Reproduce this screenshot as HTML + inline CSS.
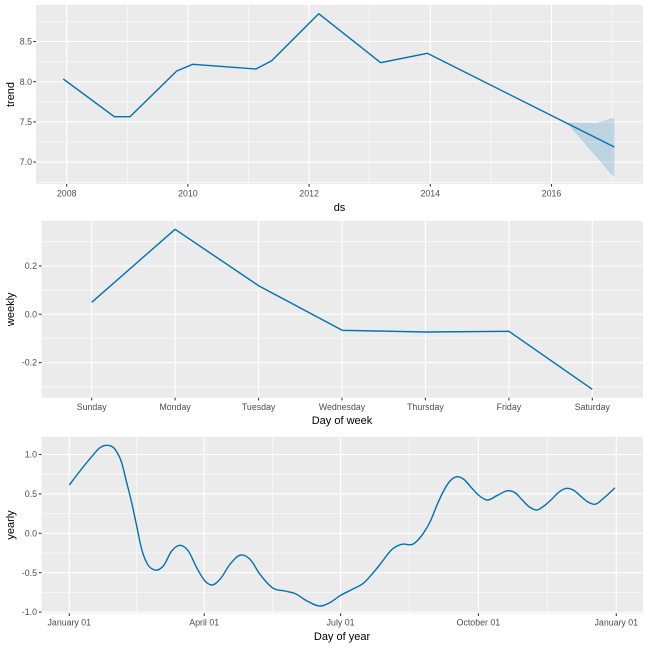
<!DOCTYPE html>
<html><head><meta charset="utf-8"><style>
html,body{margin:0;padding:0;background:#fff;}
svg{display:block;}
text{font-family:"Liberation Sans",Arial,sans-serif;}
.tl{font-size:8.8px;fill:#4D4D4D;}
.at{font-size:11px;fill:#000;}
.maj{stroke:#fff;stroke-width:1.1;}
.min{stroke:#fff;stroke-width:0.55;}
.tk{stroke:#333;stroke-width:1.05;}
.ser{fill:none;stroke:#0072B2;stroke-width:1.4;stroke-linejoin:round;}
</style></head><body>
<svg width="648" height="648" viewBox="0 0 648 648" xmlns="http://www.w3.org/2000/svg">
<rect width="648" height="648" fill="#fff"/>

<!-- Panel 1: trend -->
<rect x="36" y="5" width="607" height="179" fill="#EBEBEB"/>
<g class="min">
<line x1="36" x2="643" y1="21.4" y2="21.4"/><line x1="36" x2="643" y1="61.6" y2="61.6"/><line x1="36" x2="643" y1="101.8" y2="101.8"/><line x1="36" x2="643" y1="142" y2="142"/><line x1="36" x2="643" y1="182.2" y2="182.2"/>
<line y1="5" y2="184" x1="127.3" x2="127.3"/><line y1="5" y2="184" x1="248.5" x2="248.5"/><line y1="5" y2="184" x1="369.7" x2="369.7"/><line y1="5" y2="184" x1="490.9" x2="490.9"/><line y1="5" y2="184" x1="612.1" x2="612.1"/>
</g>
<g class="maj">
<line x1="36" x2="643" y1="41.5" y2="41.5"/><line x1="36" x2="643" y1="81.7" y2="81.7"/><line x1="36" x2="643" y1="121.9" y2="121.9"/><line x1="36" x2="643" y1="162.1" y2="162.1"/>
<line y1="5" y2="184" x1="66.7" x2="66.7"/><line y1="5" y2="184" x1="187.9" x2="187.9"/><line y1="5" y2="184" x1="309.1" x2="309.1"/><line y1="5" y2="184" x1="430.3" x2="430.3"/><line y1="5" y2="184" x1="551.5" x2="551.5"/>
</g>
<polygon points="566.7,122.3 597,123 600,121.5 611,118.5 614.3,118 614.3,176 612,175 566.7,122.8" fill="#0072B2" fill-opacity="0.2"/>
<polyline class="ser" points="63.3,79 114.3,116.7 130,116.7 176.7,71 192.7,64.3 256,69 271.7,60.7 318.7,13.7 380.7,62.7 427.3,53.3 614.3,147"/>
<g class="tk">
<line x1="33.3" x2="36" y1="41.5" y2="41.5"/><line x1="33.3" x2="36" y1="81.7" y2="81.7"/><line x1="33.3" x2="36" y1="121.9" y2="121.9"/><line x1="33.3" x2="36" y1="162.1" y2="162.1"/>
<line y1="184" y2="186.7" x1="66.7" x2="66.7"/><line y1="184" y2="186.7" x1="187.9" x2="187.9"/><line y1="184" y2="186.7" x1="309.1" x2="309.1"/><line y1="184" y2="186.7" x1="430.3" x2="430.3"/><line y1="184" y2="186.7" x1="551.5" x2="551.5"/>
</g>
<g class="tl" text-anchor="end">
<text x="32" y="44.6">8.5</text><text x="32" y="84.8">8.0</text><text x="32" y="125">7.5</text><text x="32" y="165.2">7.0</text>
</g>
<g class="tl" text-anchor="middle">
<text x="66.7" y="196.6">2008</text><text x="187.9" y="196.6">2010</text><text x="309.1" y="196.6">2012</text><text x="430.3" y="196.6">2014</text><text x="551.5" y="196.6">2016</text>
</g>
<text class="at" x="339.5" y="211" text-anchor="middle">ds</text>
<text class="at" transform="translate(14,94.5) rotate(-90)" text-anchor="middle">trend</text>

<!-- Panel 2: weekly -->
<rect x="41.5" y="221" width="601.5" height="176.7" fill="#EBEBEB"/>
<g class="min">
<line x1="41.5" x2="643" y1="241.8" y2="241.8"/><line x1="41.5" x2="643" y1="290.2" y2="290.2"/><line x1="41.5" x2="643" y1="338.5" y2="338.5"/><line x1="41.5" x2="643" y1="386.8" y2="386.8"/>
</g>
<g class="maj">
<line x1="41.5" x2="643" y1="266" y2="266"/><line x1="41.5" x2="643" y1="314.3" y2="314.3"/><line x1="41.5" x2="643" y1="362.6" y2="362.6"/>
<line y1="221" y2="397.7" x1="91.7" x2="91.7"/><line y1="221" y2="397.7" x1="175.1" x2="175.1"/><line y1="221" y2="397.7" x1="258.6" x2="258.6"/><line y1="221" y2="397.7" x1="342" x2="342"/><line y1="221" y2="397.7" x1="425.4" x2="425.4"/><line y1="221" y2="397.7" x1="508.9" x2="508.9"/><line y1="221" y2="397.7" x1="592.3" x2="592.3"/>
</g>
<polyline class="ser" points="91.7,302.3 175.1,229.3 258.6,285.7 342.2,330.3 425.4,332 508.9,331.3 592.3,389.3"/>
<g class="tk">
<line x1="38.8" x2="41.5" y1="266" y2="266"/><line x1="38.8" x2="41.5" y1="314.3" y2="314.3"/><line x1="38.8" x2="41.5" y1="362.6" y2="362.6"/>
<line y1="397.7" y2="400.4" x1="91.7" x2="91.7"/><line y1="397.7" y2="400.4" x1="175.1" x2="175.1"/><line y1="397.7" y2="400.4" x1="258.6" x2="258.6"/><line y1="397.7" y2="400.4" x1="342" x2="342"/><line y1="397.7" y2="400.4" x1="425.4" x2="425.4"/><line y1="397.7" y2="400.4" x1="508.9" x2="508.9"/><line y1="397.7" y2="400.4" x1="592.3" x2="592.3"/>
</g>
<g class="tl" text-anchor="end">
<text x="37" y="269.1">0.2</text><text x="37" y="317.4">0.0</text><text x="37" y="365.7">-0.2</text>
</g>
<g class="tl" text-anchor="middle">
<text x="91.7" y="410">Sunday</text><text x="175.1" y="410">Monday</text><text x="258.6" y="410">Tuesday</text><text x="342" y="410">Wednesday</text><text x="425.4" y="410">Thursday</text><text x="508.9" y="410">Friday</text><text x="592.3" y="410">Saturday</text>
</g>
<text class="at" x="342" y="424" text-anchor="middle">Day of week</text>
<text class="at" transform="translate(14,309.3) rotate(-90)" text-anchor="middle">weekly</text>

<!-- Panel 3: yearly -->
<rect x="41.5" y="436.7" width="601.5" height="176.6" fill="#EBEBEB"/>
<g class="min">
<line x1="41.5" x2="643" y1="474.2" y2="474.2"/><line x1="41.5" x2="643" y1="513.6" y2="513.6"/><line x1="41.5" x2="643" y1="553" y2="553"/><line x1="41.5" x2="643" y1="592.4" y2="592.4"/>
<line y1="436.7" y2="613.3" x1="136.7" x2="136.7"/><line y1="436.7" y2="613.3" x1="272.4" x2="272.4"/><line y1="436.7" y2="613.3" x1="409.5" x2="409.5"/><line y1="436.7" y2="613.3" x1="547.3" x2="547.3"/>
</g>
<g class="maj">
<line x1="41.5" x2="643" y1="454.5" y2="454.5"/><line x1="41.5" x2="643" y1="493.9" y2="493.9"/><line x1="41.5" x2="643" y1="533.3" y2="533.3"/><line x1="41.5" x2="643" y1="572.7" y2="572.7"/><line x1="41.5" x2="643" y1="612.1" y2="612.1"/>
<line y1="436.7" y2="613.3" x1="69.3" x2="69.3"/><line y1="436.7" y2="613.3" x1="204.2" x2="204.2"/><line y1="436.7" y2="613.3" x1="340.6" x2="340.6"/><line y1="436.7" y2="613.3" x1="478.4" x2="478.4"/><line y1="436.7" y2="613.3" x1="616.3" x2="616.3"/>
</g>
<path id="yearly" class="ser" d="M69.3,485 L80,471 L91.7,456.7 L100,447.7 L106.7,445.3 L115,449.3 L121.7,462.7 L126.7,482.7 L131.7,502.7 L136.7,526 L141.7,549.3 L146.7,562.7 L155,570 L163.3,566 L171.7,551 L180,545.3 L188.3,551 L196.7,567.7 L205,581 L211.7,585 L220,579.3 L230,564.3 L240.7,555 L250,559.3 L260,574.3 L273.3,588.3 L285,591 L295,593.5 L307,601 L320.7,606 L330,602.5 L340,595.7 L352,589.5 L363.3,583.3 L378,567 L393.3,548.3 L401.7,544.3 L413.3,544 L418,540 L423.3,533.3 L430,522 L437,505 L443.3,491.5 L450,481 L457.3,476.7 L464,479.5 L472,488.3 L479,495.5 L486.7,500 L497.5,495.3 L508.3,490.7 L515.5,493 L522.5,500.3 L529.5,507 L536.7,510 L544,506 L551.7,499.2 L559,492 L566.7,488.3 L574,490.5 L580.8,496.3 L588,502 L595,504.3 L605,497 L615,487.7"/>
<g class="tk">
<line x1="38.8" x2="41.5" y1="454.5" y2="454.5"/><line x1="38.8" x2="41.5" y1="493.9" y2="493.9"/><line x1="38.8" x2="41.5" y1="533.3" y2="533.3"/><line x1="38.8" x2="41.5" y1="572.7" y2="572.7"/><line x1="38.8" x2="41.5" y1="612.1" y2="612.1"/>
<line y1="613.3" y2="616" x1="69.3" x2="69.3"/><line y1="613.3" y2="616" x1="204.2" x2="204.2"/><line y1="613.3" y2="616" x1="340.6" x2="340.6"/><line y1="613.3" y2="616" x1="478.4" x2="478.4"/><line y1="613.3" y2="616" x1="616.3" x2="616.3"/>
</g>
<g class="tl" text-anchor="end">
<text x="37" y="457.6">1.0</text><text x="37" y="497">0.5</text><text x="37" y="536.4">0.0</text><text x="37" y="575.8">-0.5</text><text x="37" y="615.2">-1.0</text>
</g>
<g class="tl" text-anchor="middle">
<text x="69.3" y="625.7">January 01</text><text x="204.2" y="625.7">April 01</text><text x="340.6" y="625.7">July 01</text><text x="478.4" y="625.7">October 01</text><text x="616.3" y="625.7">January 01</text>
</g>
<text class="at" x="342" y="640" text-anchor="middle">Day of year</text>
<text class="at" transform="translate(14,525) rotate(-90)" text-anchor="middle">yearly</text>
</svg>
<script>
(function(){
var p=document.getElementById('yearly');
var d=p.getAttribute('d').replace(/[ML]/g,' ').trim().split(/\s+/).map(function(s){var a=s.split(',');return [parseFloat(a[0]),parseFloat(a[1])];});
var n=d.length,h=[],dl=[],m=[];
for(var i=0;i<n-1;i++){h[i]=d[i+1][0]-d[i][0];dl[i]=(d[i+1][1]-d[i][1])/h[i];}
m[0]=dl[0];m[n-1]=dl[n-2];
for(var i=1;i<n-1;i++){
 m[i]=(h[i]*dl[i-1]+h[i-1]*dl[i])/(h[i-1]+h[i]);
}
var s='M'+d[0][0]+','+d[0][1];
for(var i=0;i<n-1;i++){
 var x0=d[i][0],y0=d[i][1],x1=d[i+1][0],y1=d[i+1][1],hh=h[i];
 s+=' C'+(x0+hh/3).toFixed(2)+','+(y0+m[i]*hh/3).toFixed(2)+' '+(x1-hh/3).toFixed(2)+','+(y1-m[i+1]*hh/3).toFixed(2)+' '+x1+','+y1;
}
p.setAttribute('d',s);
})();
</script>
</body></html>
